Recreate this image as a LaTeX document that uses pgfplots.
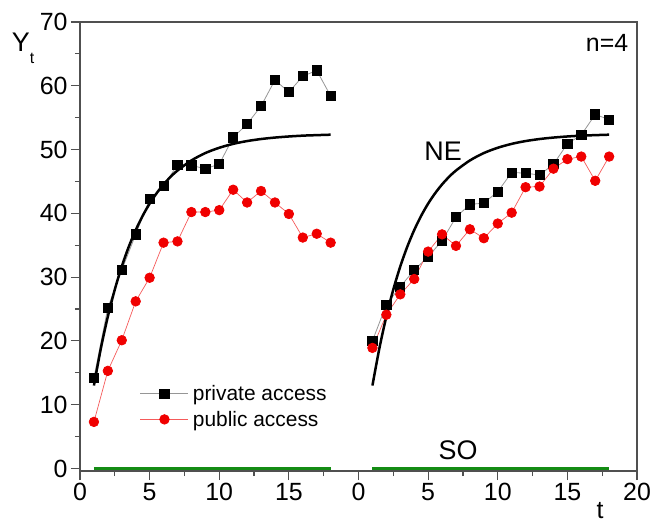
\documentclass[border=0pt]{standalone}
\usepackage{pgfplots}
\usepackage{pgfplotstable}
\pgfplotsset{compat=1.18}
\usepackage{fontspec}
\setmainfont{Liberation Sans}

\definecolor{axisgray}{RGB}{80,80,80}
\definecolor{privline}{RGB}{150,150,150}
\definecolor{pubred}{RGB}{240,0,0}
\definecolor{publine}{RGB}{245,90,90}
\definecolor{sogreen}{RGB}{20,140,20}

\pgfplotstableread{
t priv pub
1 14.2 7.3
2 25.2 15.3
3 31.1 20.1
4 36.7 26.2
5 42.2 29.9
6 44.3 35.4
7 47.6 35.6
8 47.5 40.2
9 47.0 40.2
10 47.7 40.5
11 51.9 43.7
12 54.0 41.7
13 56.8 43.5
14 60.9 41.7
15 59.0 39.9
16 61.5 36.2
17 62.4 36.8
18 58.4 35.4
}\leftdata

\pgfplotstableread{
t priv pub
1 20.0 18.9
2 25.7 24.1
3 28.5 27.3
4 31.1 29.7
5 33.2 34.0
6 35.7 36.7
7 39.4 34.9
8 41.4 37.5
9 41.6 36.1
10 43.4 38.4
11 46.4 40.1
12 46.3 44.1
13 46.0 44.2
14 47.7 47.0
15 50.9 48.5
16 52.3 48.9
17 55.5 45.1
18 54.7 48.9
}\rightdata

\pgfplotstableread{
t y
1 13.00
1.5 18.84
2 23.82
2.5 28.06
3 31.67
3.5 34.75
4 37.37
4.5 39.61
5 41.52
5.5 43.14
6 44.53
6.5 45.71
7 46.71
8 48.29
9 49.45
10 50.28
11 50.89
12 51.33
13 51.65
14 51.88
15 52.05
16 52.18
17 52.26
18 52.33
}\necurve

\pgfplotstableread{
t y
1 0
18 0
}\socurve

\begin{document}
\begin{tikzpicture}
\begin{axis}[
  scale only axis, width=557bp, height=449bp,
  xmin=0, xmax=40, ymin=-0.4, ymax=70,
  xtick={0,5,...,40}, xticklabels={0,5,10,15,0,5,10,15,20},
  minor xtick={2.5,7.5,...,37.5},
  ytick={0,10,...,70}, minor ytick={5,15,...,65},
  tick align=outside, xtick pos=left, ytick pos=left,
  major tick length=9bp, minor tick length=5bp,
  axis line style={color=axisgray, line width=1.3bp},
  every tick/.style={axisgray, line width=1.2bp},
  tick label style={font=\fontsize{25}{28}\selectfont, text=black},
  /pgf/number format/assume math mode=true,
  clip=false,
  legend style={draw=none, fill=none, at={(axis cs:4.3,9.7)}, anchor=west,
    font=\fontsize{21}{24}\selectfont, row sep=5bp, inner sep=0pt,
    nodes={inner xsep=4bp}},
  legend cell align=left,
  legend image code/.code={\draw[mark repeat=2,mark phase=2] plot coordinates {(0bp,0bp) (24bp,0bp) (48bp,0bp)};},
]
\coordinate (sw) at (rel axis cs:0,0);
% left panel
\addplot[privline, line width=0.8bp, mark=square*, mark size=4.6bp, mark options={black, fill=black, solid}]
  table[x=t, y=priv] {\leftdata};
\addlegendentry{private access}
\addplot[publine, line width=0.7bp, mark=*, mark size=4.8bp, mark options={pubred, fill=pubred, solid}]
  table[x=t, y=pub] {\leftdata};
\addlegendentry{public access}
\addplot[black, line width=2.5bp, smooth, forget plot] table[x=t, y=y] {\necurve};
\addplot[sogreen, line width=2.3bp, forget plot] table[x=t, y=y] {\socurve};
% right panel
\addplot[privline, line width=0.8bp, mark=square*, mark size=4.6bp, mark options={black, fill=black, solid}, forget plot]
  table[x expr=\thisrow{t}+20, y=priv] {\rightdata};
\addplot[publine, line width=0.7bp, mark=*, mark size=4.8bp, mark options={pubred, fill=pubred, solid}, forget plot]
  table[x expr=\thisrow{t}+20, y=pub] {\rightdata};
\addplot[black, line width=2.5bp, smooth, forget plot] table[x expr=\thisrow{t}+20, y=y] {\necurve};
\addplot[sogreen, line width=2.3bp, forget plot] table[x expr=\thisrow{t}+20, y=y] {\socurve};
% labels
\node[font=\fontsize{27}{29}\selectfont] at (axis cs:26.07,49.7) {NE};
\node[font=\fontsize{27}{29}\selectfont] at (axis cs:27.15,2.9) {SO};
\node[font=\fontsize{25}{27}\selectfont] at (axis cs:37.85,66.7) {n=4};
\node[font=\fontsize{25}{27}\selectfont] at (axis cs:37.34,-6.6) {t};
\node[anchor=west, inner sep=0pt, font=\fontsize{27}{29}\selectfont] at (axis cs:-4.9,65.9) {Y\raisebox{-0.45em}{\fontsize{16}{16}\selectfont t}};
\end{axis}
\pgfresetboundingbox
\path ([shift={(-80bp,-52bp)}]sw) rectangle ++(652bp,523bp);
\end{tikzpicture}
\end{document}
